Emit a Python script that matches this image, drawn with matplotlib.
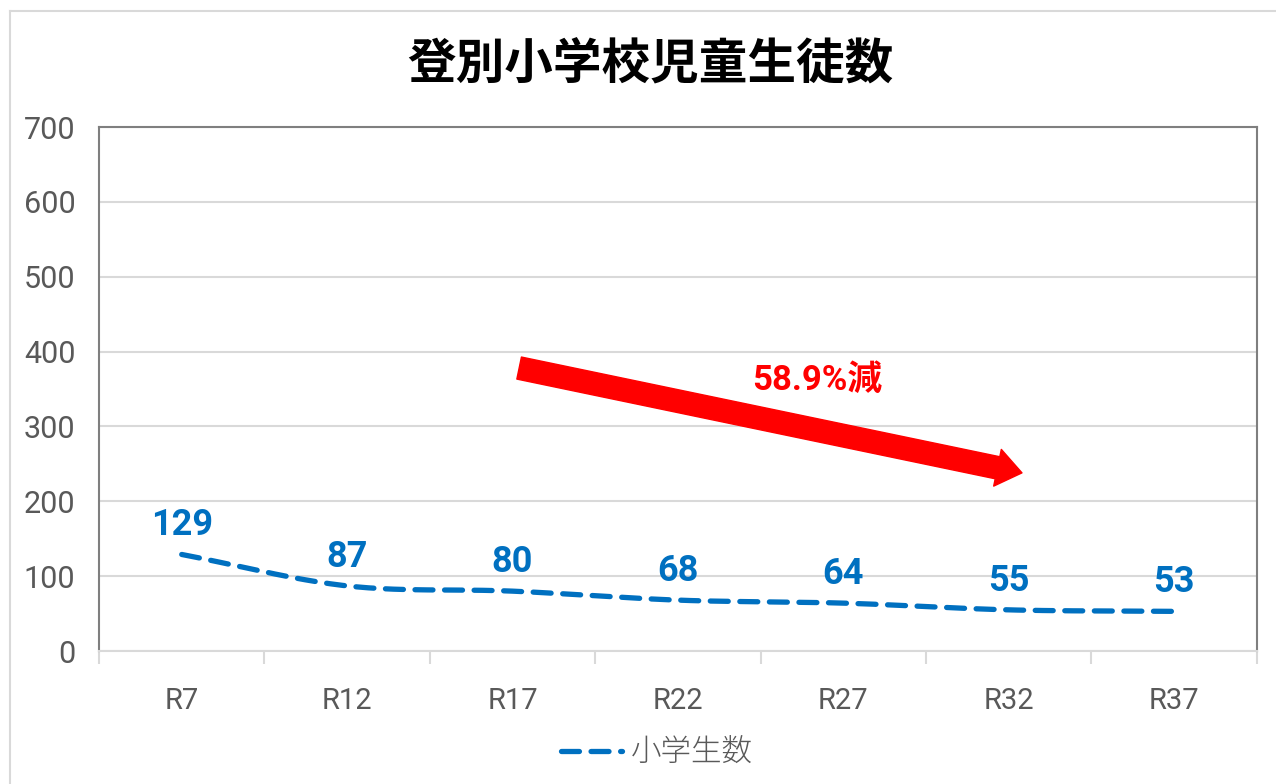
import numpy as np
import matplotlib
matplotlib.use("Agg")
import matplotlib.pyplot as plt
from matplotlib.lines import Line2D
from matplotlib import font_manager

# data
categories = ["R7", "R12", "R17", "R22", "R27", "R32", "R37"]
students = [129, 87, 80, 68, 64, 55, 53]
series_name = "小学生数"
title = "登別小学校児童生徒数"
note = "58.9%減"
y_ticks = [0, 100, 200, 300, 400, 500, 600, 700]

# fonts
names = {f.name for f in font_manager.fontManager.ttflist}
narrow = "Liberation Sans Narrow" if "Liberation Sans Narrow" in names else "Roboto"
jp = "Noto Sans CJK JP"
plt.rcParams['font.family'] = [narrow, jp, 'DejaVu Sans']

blue = "#0070C0"
gray_txt = "#595959"
grid_c = "#d9d9d9"


def smooth(xs, ys, n=40):
    # Catmull-Rom curve through the points (like Excel's smoothed line)
    xs = np.asarray(xs, float)
    ys = np.asarray(ys, float)
    px = np.concatenate([[2 * xs[0] - xs[1]], xs, [2 * xs[-1] - xs[-2]]])
    py = np.concatenate([[2 * ys[0] - ys[1]], ys, [2 * ys[-1] - ys[-2]]])
    out_x, out_y = [], []
    t = np.linspace(0, 1, n)
    for i in range(1, len(px) - 2):
        for p, out in ((px, out_x), (py, out_y)):
            p0, p1, p2, p3 = p[i - 1], p[i], p[i + 1], p[i + 2]
            out.extend(0.5 * ((2 * p1) + (-p0 + p2) * t
                              + (2 * p0 - 5 * p1 + 4 * p2 - p3) * t ** 2
                              + (-p0 + 3 * p1 - 3 * p2 + p3) * t ** 3))
    return np.array(out_x), np.array(out_y)


fig = plt.figure(figsize=(12.76, 7.84), dpi=100)
ax = fig.add_axes([0.0776, 0.1696, 0.9074, 0.6684])

x = np.arange(len(categories))
sx, sy = smooth(x, students)
line, = ax.plot(sx, sy, color=blue, lw=3.8, linestyle=(0, (3.4, 2.2)),
                dash_capstyle='round', label=series_name)

for xi, v in zip(x, students):
    ax.annotate(str(v), (xi, v), xytext=(0, 8), textcoords='offset points',
                ha='center', va='bottom', color=blue, fontsize=26,
                fontweight='bold')

ax.set_xlim(-0.5, len(categories) - 0.5)
ax.set_ylim(0, 700)
ax.set_yticks(y_ticks)
ax.set_xticks(x)
ax.set_xticklabels(categories)
ax.tick_params(axis='y', length=0, pad=17, labelsize=22, labelcolor=gray_txt)
ax.tick_params(axis='x', length=0, pad=26, labelsize=21, labelcolor=gray_txt)
ax.set_xticks(np.arange(-0.5, len(categories)), minor=True)
ax.tick_params(axis='x', which='minor', length=9, width=1.5, color=grid_c)
ax.grid(axis='y', color=grid_c, lw=1.5)
ax.set_axisbelow(True)
for s in ('left', 'top', 'right'):
    ax.spines[s].set_color('#7f7f7f')
    ax.spines[s].set_linewidth(1.5)
ax.spines['bottom'].set_color(grid_c)
ax.spines['bottom'].set_linewidth(1.5)

# red arrow
arrow_start = (2.04, 378)
arrow_end = (5.08, 238)
ax.annotate("", xy=arrow_end, xytext=arrow_start,
            arrowprops=dict(arrowstyle="simple,head_length=1.0,head_width=1.5,tail_width=0.9",
                            color='#ff0000', mutation_scale=18, shrinkA=0, shrinkB=0))
ax.text(3.84, 362, note, color='#ff0000', fontsize=25, fontweight='bold',
        ha='center', va='center', family=[narrow, jp])

fig.text(0.51, 0.917, title, fontsize=35, fontweight='bold', ha='center',
         va='center', family=[jp])

leg = fig.legend(handles=[line], loc='center', bbox_to_anchor=(0.515, 0.04),
                 frameon=False, handlelength=2.0, handletextpad=0.3,
                 prop=dict(family=jp, size=22, weight='light'))
for t in leg.get_texts():
    t.set_color(gray_txt)

# chart outer border (left and top edges visible)
fig.add_artist(Line2D([10 / 1276, 10 / 1276], [0, 1 - 11 / 784],
                      transform=fig.transFigure, color=grid_c, lw=1.5))
fig.add_artist(Line2D([10 / 1276, 1], [1 - 11 / 784, 1 - 11 / 784],
                      transform=fig.transFigure, color=grid_c, lw=1.5))

fig.savefig("out.png", dpi=100, facecolor='white')
